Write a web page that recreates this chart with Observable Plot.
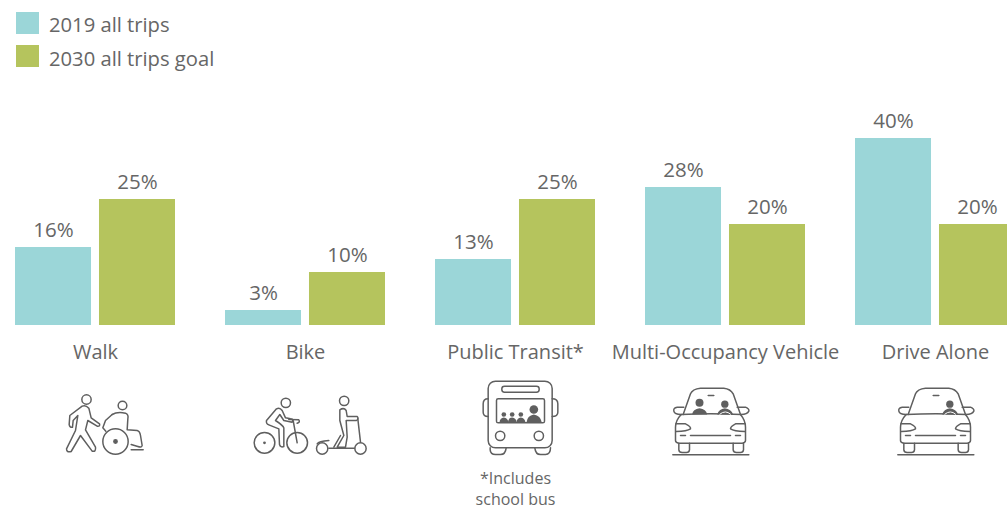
<!DOCTYPE html>
<html>
<head>
<meta charset="utf-8">
<script src="https://cdn.jsdelivr.net/npm/d3@7"></script>
<script src="https://cdn.jsdelivr.net/npm/@observablehq/plot@0.6"></script>
<style>
  html, body { margin: 0; padding: 0; background: #fff; overflow: hidden; }
  #legend { height: 80px; box-sizing: border-box; padding: 12px 0 0 16px; font: 20.2px "Open Sans", sans-serif; color: #666; }
  .item { display: flex; align-items: center; height: 22px; margin-bottom: 11px; }
  .swatch { width: 23px; height: 22px; margin-right: 10px; }
  .item span:last-child { position: relative; top: 1px; }
  .item + .item span:last-child { top: 2px; }
</style>
</head>
<body>
<div id="legend"></div>
<div id="chart"></div>
<script>
const modes = ["Walk", "Bike", "Public Transit*", "Multi-Occupancy Vehicle", "Drive Alone"];
const series = ["2019 all trips", "2030 all trips goal"];
const values2019 = [16, 3, 13, 28, 40];
const values2030 = [25, 10, 25, 20, 20];
const seriesColors = ["#9bd6d8", "#b5c45d"];
const footnotes = ["*Includes\nschool bus"];
const footnoteModes = ["Public Transit*"];

const ink = "#5f5f5f";
const svgIcon = (viewBox, body) => "data:image/svg+xml," + encodeURIComponent(
  `<svg xmlns="http://www.w3.org/2000/svg" viewBox="${viewBox}" width="210" height="100"><g fill="none" stroke="${ink}" stroke-width="4.5" stroke-linejoin="round" stroke-linecap="round">${body}</g></svg>`);

const carBody = `
  <path d="M728 222L750 160Q756 145 780 143H850Q870 145 878 160L900 222"/>
  <path d="M722 222Q810 217 902 222"/>
  <path d="M722 222Q705 240 705 260V300Q705 307 715 308H905Q915 307 915 300V260Q915 240 900 222"/>
  <path d="M730 200H710Q698 202 700 212Q702 222 722 222M890 200H915Q927 205 925 212Q920 222 902 222"/>
  <path d="M803 165H820" />
  <path d="M707 250H735Q752 258 750 265Q740 272 707 273M913 250H885Q870 258 870 265Q880 272 913 273"/>
  <path d="M720 285H735M750 285H870M885 285H900" />
  <path d="M715 308V328Q716 336 725 336H738Q746 336 747 328V308M878 308V328Q879 336 888 336H900Q908 336 909 328V308"/>
  <path d="M697 343H925"/>`;
const driver = `
  <circle cx="853" cy="191" r="11" fill="${ink}" stroke="none"/>
  <path d="M830 222Q835 205 853 203Q872 205 878 222Z" fill="${ink}" stroke="none"/>
  <path d="M838 221Q855 207 870 221" stroke="#fff" stroke-width="3"/>`;
const passenger = `
  <circle cx="777" cy="187" r="12" fill="${ink}" stroke="none"/>
  <path d="M755 222Q757 205 777 203Q797 205 800 222Z" fill="${ink}" stroke="none"/>`;

const icons = [
  svgIcon("-30 90 630 300", `
    <circle cx="258" cy="177" r="14"/>
    <path d="M245 197Q255 192 265 203L272 232L297 250Q300 258 290 257L262 240L255 268L285 320Q287 335 275 332L240 285L212 333Q198 337 198 325L225 270L232 225L218 240L216 260Q208 262 206 252L208 225Z"/>
    <circle cx="366" cy="195" r="13"/>
    <circle cx="345" cy="303" r="38"/>
    <circle cx="345" cy="303" r="5" fill="${ink}"/>
    <path d="M335 222Q350 213 375 218Q385 222 382 235L380 268L410 270Q418 272 420 285L425 315Q424 322 412 318L392 312"/>
    <path d="M335 222L315 240L307 262L316 272"/>
    <path d="M392 328H428"/>`),
  svgIcon("600 90 630 300", `
    <circle cx="792" cy="307" r="31"/><circle cx="890" cy="307" r="31"/>
    <circle cx="792" cy="307" r="2" fill="${ink}"/>
    <circle cx="856" cy="187" r="14"/>
    <path d="M828 205L798 240Q796 250 805 253L835 265L837 312Q840 322 850 318L850 262Q848 255 825 240L838 222L850 240L875 245Q880 235 870 235L855 232L845 210Q838 200 828 205Z"/>
    <path d="M865 237L895 238Q900 245 890 248M878 240L890 307"/>
    <circle cx="965" cy="324" r="17"/><circle cx="1080" cy="324" r="17"/>
    <path d="M985 323H1062M950 310Q955 302 985 300M1072 235L1080 305"/>
    <circle cx="1031" cy="181" r="14"/>
    <path d="M1018 208Q1030 200 1037 210L1040 228L1070 228Q1076 234 1068 240L1037 240L1040 290L1035 320L1010 320L1030 285L1018 240Z"/>
    <path d="M1000 320L1020 285"/>`),
  svgIcon("-90 90 630 300", `
    <rect x="143" y="122" width="192" height="200" rx="22"/>
    <path d="M143 175Q128 175 128 190V215Q128 228 143 228M335 175Q352 175 352 190V215Q352 228 335 228"/>
    <rect x="184" y="137" width="112" height="18" rx="8"/>
    <rect x="168" y="175" width="144" height="72" rx="5"/>
    <g fill="${ink}" stroke="none">
      <circle cx="280" cy="207" r="13"/><path d="M258 246Q260 225 280 222Q300 225 304 246Z"/>
      <circle cx="190" cy="222" r="7"/><path d="M177 246Q178 232 190 231Q202 232 204 246Z"/>
      <circle cx="215" cy="222" r="7"/><path d="M202 246Q203 232 215 231Q227 232 229 246Z"/>
      <circle cx="241" cy="222" r="7"/><path d="M228 246Q229 232 241 231Q253 232 255 246Z"/>
    </g>
    <circle cx="179" cy="286" r="14"/><circle cx="295" cy="286" r="14"/>
    <path d="M149 322V328Q150 342 165 342H180Q195 342 197 322M283 322Q285 342 300 342H315Q330 342 330 322"/>`),
  svgIcon("540 90 630 300", carBody + passenger + driver),
  svgIcon("495 90 630 300", carBody + driver)
];

const rows = modes.flatMap((mode, i) => [
  {mode, series: series[0], value: values2019[i]},
  {mode, series: series[1], value: values2030[i]}
]);

d3.select("#legend").selectAll("div").data(series).join("div").attr("class", "item")
  .html((d, i) => `<span class="swatch" style="background:${seriesColors[i]}"></span><span>${d}</span>`);

const textColor = "#666";
const chart = Plot.plot({
  width: 1007,
  height: 430,
  marginLeft: 0, marginRight: 0, marginTop: 0, marginBottom: 185,
  style: {fontFamily: '"Open Sans", sans-serif', background: "#fff", color: textColor},
  fx: {domain: modes, range: [-10, 1040], padding: 0, round: false, label: null},
  x: {domain: series, range: [25, 185], paddingInner: 0.095, paddingOuter: 0, round: false, axis: null},
  y: {type: "linear", domain: [0, 3, 10, 13, 16, 20, 25, 28, 40], range: [245, 230, 192, 179, 167, 144, 119, 107, 58], axis: null},
  color: {domain: series, range: seriesColors},
  marks: [
    Plot.axisFx({anchor: "bottom", tickSize: 0, tickPadding: 19, fontSize: 20, fill: textColor, label: null}),
    Plot.barY(rows, {fx: "mode", x: "series", y: "value", fill: "series"}),
    Plot.text(rows, {fx: "mode", x: "series", y: "value", text: d => d.value + "%", lineAnchor: "bottom", dy: -11, fontSize: 20.5, fill: textColor}),
    Plot.image(modes, {fx: d => d, y: () => 0, src: (d, i) => icons[i], width: 210, height: 100, dy: 95}),
    Plot.text(footnotes, {fx: (d, i) => footnoteModes[i], y: () => 0, text: d => d, lineAnchor: "top", dy: 144, fontSize: 16, lineHeight: 1.3, fill: textColor})
  ]
});
document.getElementById("chart").append(chart);
</script>
</body>
</html>
